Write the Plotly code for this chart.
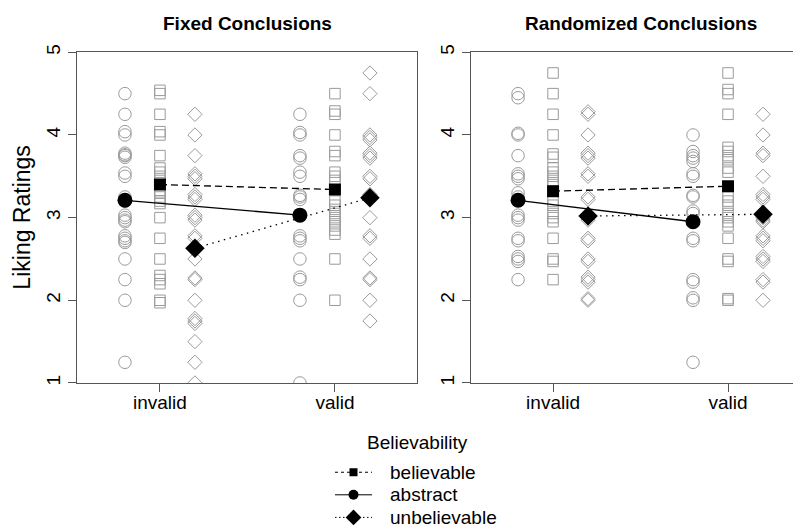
import plotly.graph_objects as go

W, H = 801, 531
OFF = 8  # the page body adds an 8px margin; place everything relative to the visible window

# ---------------- data ----------------
conditions = ["invalid", "valid"]
types = ["believable", "abstract", "unbelievable"]
panel_titles = ["Fixed Conclusions", "Randomized Conclusions"]
y_ticks = [1, 2, 3, 4, 5]
y_label = "Liking Ratings"
legend_title = "Believability"

# individual ratings (Fixed Conclusions)
fixed_invalid_abstract = [4.5, 4.25, 4.0, 4.04, 3.75, 3.76, 3.78, 3.73, 3.5, 3.54, 3.25, 3.2,
                          3.0, 2.97, 2.95, 3.03, 2.75, 2.72, 2.78, 2.7, 2.5, 2.25, 2.0, 1.25]
fixed_invalid_believable = [4.5, 4.54, 4.25, 4.0, 4.04, 3.75, 3.6, 3.55, 3.5, 3.45, 3.33, 3.3,
                            3.25, 3.2, 3.17, 3.0, 2.75, 2.5, 2.25, 2.2, 2.3, 2.0, 1.97]
fixed_invalid_unbelievable = [4.25, 4.0, 3.75, 3.5, 3.47, 3.53, 3.25, 3.22, 3.28, 3.0, 2.97, 3.03,
                              2.75, 2.78, 2.5, 2.25, 2.27, 2.0, 1.75, 1.78, 1.72, 1.5, 1.25, 1.0]
fixed_valid_abstract = [4.25, 4.0, 4.03, 3.75, 3.72, 3.55, 3.5, 3.25, 3.27, 3.22,
                        2.75, 2.78, 2.72, 2.5, 2.25, 2.28, 2.0, 1.0]
fixed_valid_believable = [4.5, 4.25, 4.29, 4.0, 3.8, 3.75, 3.55, 3.5, 3.45, 3.2, 3.15, 3.1,
                          3.05, 3.0, 2.95, 2.9, 2.85, 2.8, 2.5, 2.0]
fixed_valid_unbelievable = [4.75, 4.5, 4.0, 3.97, 3.94, 3.75, 3.72, 3.78, 3.5, 3.47, 3.25, 3.28,
                            3.0, 2.78, 2.75, 2.5, 2.25, 2.27, 2.0, 1.75]

# individual ratings (Randomized Conclusions)
rand_invalid_abstract = [4.5, 4.45, 4.0, 4.02, 3.75, 3.5, 3.47, 3.53, 3.3, 3.25, 3.0, 2.97, 3.03,
                         2.75, 2.72, 2.5, 2.47, 2.53, 2.25]
rand_invalid_believable = [4.75, 4.5, 4.25, 4.0, 3.77, 3.73, 3.6, 3.55, 3.5, 3.45, 3.4, 3.2, 3.15,
                           3.05, 3.0, 2.95, 2.75, 2.5, 2.47, 2.25]
rand_invalid_unbelievable = [4.25, 4.28, 4.0, 3.78, 3.75, 3.72, 3.5, 3.53, 3.25, 3.22, 3.0, 2.97,
                             2.75, 2.72, 2.5, 2.47, 2.25, 2.22, 2.28, 2.0, 2.02]
rand_valid_abstract = [4.0, 3.8, 3.75, 3.72, 3.68, 3.5, 3.53, 3.25, 3.27, 3.05, 3.08,
                       2.75, 2.72, 2.25, 2.22, 2.0, 2.03, 1.25]
rand_valid_believable = [4.75, 4.5, 4.55, 4.25, 3.85, 3.8, 3.75, 3.7, 3.6, 3.55, 3.25, 3.2, 3.15,
                         3.05, 3.0, 2.95, 2.9, 2.75, 2.5, 2.47, 2.0, 2.02]
rand_valid_unbelievable = [4.25, 4.0, 3.75, 3.78, 3.5, 3.25, 3.28, 3.22, 3.0, 2.97, 2.95,
                           2.75, 2.72, 2.78, 2.5, 2.47, 2.53, 2.25, 2.22, 2.0]

# means  [invalid, valid]
fixed_mean_believable = [3.40, 3.34]
fixed_mean_abstract = [3.21, 3.03]
fixed_mean_unbelievable = [2.63, 3.24]
rand_mean_believable = [3.32, 3.38]
rand_mean_abstract = [3.21, 2.95]
rand_mean_unbelievable = [3.02, 3.04]

# ---------------- styling ----------------
FONT = "Liberation Sans, Arial, Helvetica, sans-serif"
GRAY = "#9a9a9a"
AXC = "#555555"
offsets = {"believable": 0.0, "abstract": -0.2, "unbelievable": 0.2}
open_sym = {"believable": "square-open", "abstract": "circle-open", "unbelievable": "diamond-open"}
fill_sym = {"believable": "square", "abstract": "circle", "unbelievable": "diamond"}
open_size = {"believable": 10.5, "abstract": 12.5, "unbelievable": 11}
fill_size = {"believable": 12, "abstract": 15, "unbelievable": 15}
dash = {"believable": "7px,4px", "abstract": "solid", "unbelievable": "1.5px,4.5px"}
leg_dash = {"believable": "3px,3px", "abstract": "solid", "unbelievable": "1.5px,2.5px"}
leg_size = {"believable": 8, "abstract": 10, "unbelievable": 12}

panels = [
    ("x", "y", {
        "invalid": {"believable": fixed_invalid_believable, "abstract": fixed_invalid_abstract,
                    "unbelievable": fixed_invalid_unbelievable},
        "valid": {"believable": fixed_valid_believable, "abstract": fixed_valid_abstract,
                  "unbelievable": fixed_valid_unbelievable}},
     {"believable": fixed_mean_believable, "abstract": fixed_mean_abstract,
      "unbelievable": fixed_mean_unbelievable}),
    ("x2", "y2", {
        "invalid": {"believable": rand_invalid_believable, "abstract": rand_invalid_abstract,
                    "unbelievable": rand_invalid_unbelievable},
        "valid": {"believable": rand_valid_believable, "abstract": rand_valid_abstract,
                  "unbelievable": rand_valid_unbelievable}},
     {"believable": rand_mean_believable, "abstract": rand_mean_abstract,
      "unbelievable": rand_mean_unbelievable}),
]

fig = go.Figure()
for xa, ya, raw, means in panels:
    for ci, cond in enumerate(conditions):
        for t in types:
            vals = raw[cond][t]
            fig.add_trace(go.Scatter(
                x=[ci + 1 + offsets[t]] * len(vals), y=vals, xaxis=xa, yaxis=ya,
                mode="markers", showlegend=False, hoverinfo="skip",
                marker=dict(symbol=open_sym[t], size=open_size[t], color=GRAY,
                            line=dict(color=GRAY, width=1))))
    for t in types:
        fig.add_trace(go.Scatter(
            x=[ci2 + 1 + offsets[t] for ci2 in range(len(conditions))], y=means[t],
            xaxis=xa, yaxis=ya, mode="lines+markers", showlegend=False,
            line=dict(color="black", width=1.3, dash=dash[t]),
            marker=dict(symbol=fill_sym[t], size=fill_size[t], color="black")))

# legend drawn in its own (hidden) axes below the panels, in window-pixel units
leg_rows = {"believable": 473, "abstract": 496, "unbelievable": 519}
for t in types:
    yy = leg_rows[t]
    fig.add_trace(go.Scatter(
        x=[335, 353.5, 372], y=[yy, yy, yy], xaxis="x3", yaxis="y3",
        mode="lines", showlegend=False, hoverinfo="skip",
        line=dict(color="black", width=1, dash=leg_dash[t])))
    fig.add_trace(go.Scatter(
        x=[353.5], y=[yy], xaxis="x3", yaxis="y3", mode="markers", showlegend=False,
        hoverinfo="skip", marker=dict(symbol=fill_sym[t], size=leg_size[t], color="black")))


def px_x(p):
    return (p - OFF) / W


def px_y(p):
    return 1 - (p - OFF) / H


ax_common = dict(showgrid=False, zeroline=False, showline=True, linecolor=AXC, linewidth=1.3,
                 ticks="outside", ticklen=8, tickcolor=AXC, tickwidth=1.2,
                 tickfont=dict(family=FONT, size=19, color="black"))

fig.update_layout(
    width=W, height=H, margin=dict(l=0, r=0, t=0, b=0),
    paper_bgcolor="white", plot_bgcolor="white", showlegend=False,
    xaxis=dict(domain=[px_x(77), px_x(417)], range=[0.526, 2.469], anchor="y",
               tickvals=[1, 2], ticktext=conditions, mirror=True, ticklabelstandoff=-6,
               **ax_common),
    yaxis=dict(domain=[px_y(382), px_y(45)], range=[1, 5], anchor="x",
               tickvals=y_ticks, tickangle=-90, mirror=True, **ax_common),
    xaxis2=dict(domain=[px_x(471), 1.0], range=[0.531, 2.0 + (W + OFF - 728) / 175.0],
                anchor="y2", tickvals=[1, 2], ticktext=conditions, mirror=True,
                ticklabelstandoff=-6, **ax_common),
    yaxis2=dict(domain=[px_y(382), px_y(45)], range=[1, 5], anchor="x2",
                tickvals=y_ticks, tickangle=-90, mirror=False, **ax_common),
    xaxis3=dict(domain=[0, 1], range=[OFF, W + OFF], visible=False, anchor="y3",
                fixedrange=True),
    yaxis3=dict(domain=[0, 120 / H], range=[H + OFF, H + OFF - 120], visible=False,
                anchor="x3", fixedrange=True),
)

annotations = [
    dict(text="<b>%s</b>" % panel_titles[0], x=px_x(247.5), y=px_y(16), xref="paper",
         yref="paper", showarrow=False, xanchor="center", yanchor="middle",
         font=dict(family=FONT, size=19, color="black")),
    dict(text="<b>%s</b>" % panel_titles[1], x=px_x(640.5), y=px_y(16), xref="paper",
         yref="paper", showarrow=False, xanchor="center", yanchor="middle",
         font=dict(family=FONT, size=19, color="black")),
    dict(text=y_label, x=px_x(22), y=px_y(213.5), xref="paper", yref="paper",
         showarrow=False, textangle=-90, xanchor="center", yanchor="middle",
         font=dict(family=FONT, size=23, color="black")),
    dict(text=legend_title, x=417, y=443, xref="x3", yref="y3", showarrow=False,
         xanchor="center", yanchor="middle", font=dict(family=FONT, size=19, color="black")),
]
for t in types:
    annotations.append(dict(text=t, x=388, y=leg_rows[t], xref="x3", yref="y3",
                            showarrow=False, xanchor="left", yanchor="middle",
                            font=dict(family=FONT, size=19, color="black")))
fig.update_layout(annotations=annotations)

fig.write_html("out.html")
